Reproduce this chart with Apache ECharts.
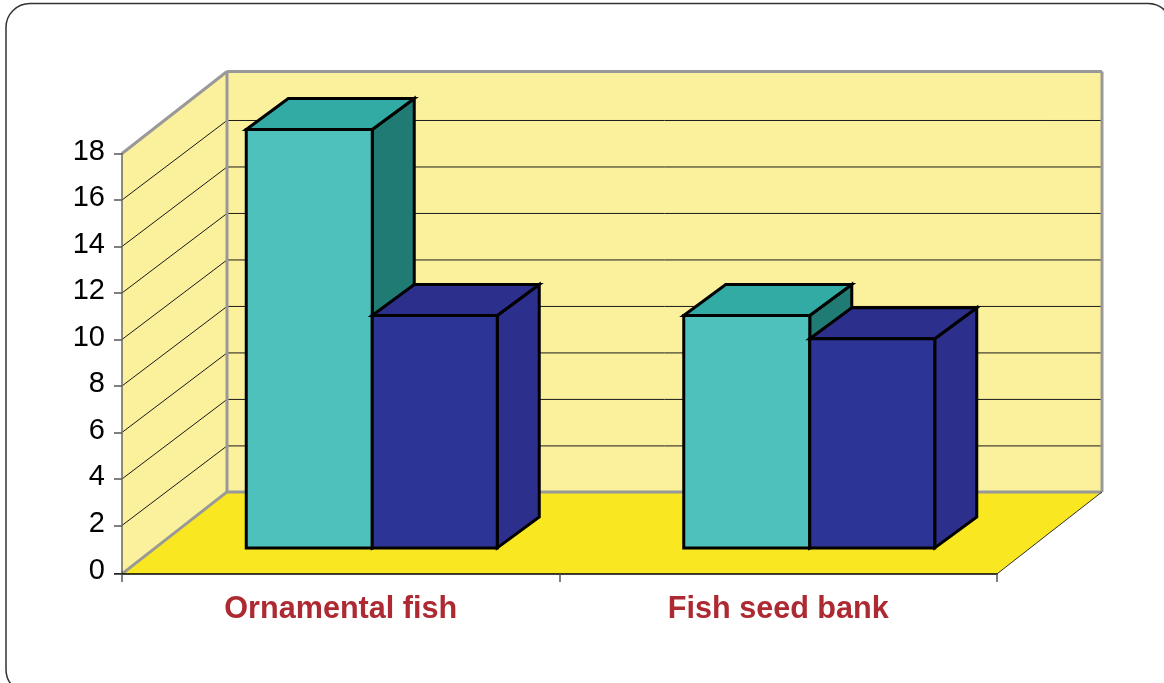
<!DOCTYPE html>
<html><head><meta charset="utf-8">
<style>html,body{margin:0;padding:0;background:#fff}#c{width:1164px;height:683px}</style>
<script src="https://cdn.jsdelivr.net/npm/echarts@6/dist/echarts.min.js"></script>
</head><body><div id="c"></div>
<script>
const categories = ['Ornamental fish', 'Fish seed bank'];
const tealValues = [18, 10];
const navyValues = [10, 9];
const yTicks = [2, 4, 6, 8, 10, 12, 14, 16];
const yMax = 18;

const WALL_DX = 105, WALL_DY = -82, GRID_DY = -79.5, FLOOR_DROP = 2;
const BAR_DY = -24;
const DEPTH_DX = 42, DEPTH_DY = -31;
const chart = echarts.init(document.getElementById('c'), null, {renderer: 'canvas'});

function poly(points, fill, stroke, lw) {
  return {type: 'polygon', shape: {points}, style: {fill, stroke: stroke || 'none', lineWidth: lw || 0, lineJoin: 'miter'}};
}
function line(a, b, stroke, lw) {
  return {type: 'line', shape: {x1: a[0], y1: a[1], x2: b[0], y2: b[1]}, style: {stroke, lineWidth: lw}};
}
function renderWalls(params, api) {
  const cs = params.coordSys;
  const L = cs.x, R = cs.x + cs.width;
  const y0 = api.coord([0, 0])[1] + FLOOR_DROP, yT = api.coord([0, yMax])[1];
  const wall = '#FBF09B', floor = '#F9E721', edge = '#999999', ink = '#1a1a1a';
  const bk = (x, y) => [x + WALL_DX, y + WALL_DY];
  const ch = [
    poly([[L, y0], bk(L, y0), bk(L, yT), [L, yT]], wall),
    poly([bk(L, y0), bk(R, y0), bk(R, yT), bk(L, yT)], wall),
    poly([[L, y0], bk(L, y0), bk(R, y0), [R, y0]], floor)
  ];
  yTicks.forEach(v => {
    const y = api.coord([0, v])[1];
    const b = [L + WALL_DX, y + GRID_DY];
    ch.push(line([L, y], b, ink, 1));
    ch.push(line(b, [R + WALL_DX, y + GRID_DY], ink, 1));
  });
  ch.push(line(bk(L, yT), bk(R, yT), edge, 3));
  ch.push(line(bk(R, yT), bk(R, y0), edge, 3));
  ch.push(line(bk(L, y0), bk(R, y0), edge, 3));
  ch.push(line(bk(L, yT), bk(L, y0), edge, 3));
  ch.push(line([L, yT], bk(L, yT), edge, 3));
  ch.push(line([L, y0], bk(L, y0), edge, 3));
  ch.push(line([R, y0], bk(R, y0), '#333333', 1));
  ch.push(line([L - 8, y0], [L, y0], '#000', 1.5));
  ch.push(line([L, y0 - FLOOR_DROP - 1], [L, y0], '#666', 1.5));
  return {type: 'group', children: ch};
}
function barRenderer(xFrom, xTo, front, top, side) {
  return function (params, api) {
    const c = api.value(0), v = api.value(1);
    const cx = api.coord([c, 0])[0];
    const base = api.coord([c, 0])[1] + BAR_DY;
    const head = api.coord([c, v])[1] + BAR_DY;
    const a = cx + xFrom, b = cx + xTo;
    const lw = 3, k = '#000';
    return {type: 'group', children: [
      poly([[b, head], [b + DEPTH_DX, head + DEPTH_DY], [b + DEPTH_DX, base + DEPTH_DY], [b, base]], side, k, lw),
      poly([[a, head], [a + DEPTH_DX, head + DEPTH_DY], [b + DEPTH_DX, head + DEPTH_DY], [b, head]], top, k, lw),
      poly([[a, head], [b, head], [b, base], [a, base]], front, k, lw)
    ]};
  };
}
const FONT = '"Liberation Sans", Arial, sans-serif';
chart.setOption({
  animation: false,
  backgroundColor: '#fff',
  graphic: [{type: 'rect', z: -10, silent: true,
    shape: {x: 6, y: 3.5, width: 1166, height: 690, r: 24},
    style: {fill: '#fff', stroke: '#333', lineWidth: 1.5}}],
  grid: {left: 122, top: 153.5, width: 875, height: 418.4},
  xAxis: {type: 'category', data: categories, z: 5, offset: FLOOR_DROP,
    axisLine: {show: true, onZero: false, lineStyle: {color: '#000', width: 1.5}},
    axisTick: {show: true, length: 8, alignWithLabel: false, lineStyle: {color: '#555', width: 1.5}},
    axisLabel: {color: '#AE2A32', fontFamily: FONT, fontWeight: 'bold', fontSize: 30.6, margin: 20}},
  yAxis: {type: 'value', min: 0, max: yMax, interval: 2, z: 5,
    axisLine: {show: true, lineStyle: {color: '#666', width: 1.5}},
    axisTick: {show: true, length: 8, customValues: [2, 4, 6, 8, 10, 12, 14, 16, 18], lineStyle: {color: '#555', width: 1.5}},
    splitLine: {show: false},
    axisLabel: {color: '#000', fontFamily: FONT, fontSize: 29, margin: 17, padding: [0, 0, 3, 0],
      formatter: v => v === 0 ? '{z|0}' : String(v),
      rich: {z: {fontFamily: FONT, fontSize: 29, color: '#000', padding: [2, 0, 0, 0]}}}},
  series: [
    {type: 'custom', name: 'walls', z: 1, silent: true, data: [[0]], renderItem: renderWalls, encode: {x: 0}},
    {type: 'custom', name: 'Teal', z: 2, renderItem: barRenderer(-94.5, 31.5, '#4FC1BD', '#33ABA5', '#1F7B74'),
      data: tealValues.map((v, i) => [i, v]), encode: {x: 0, y: 1}},
    {type: 'custom', name: 'Navy', z: 3, renderItem: barRenderer(31.5, 156.5, '#2C3595', '#2D2F8C', '#2D2F8C'),
      data: navyValues.map((v, i) => [i, v]), encode: {x: 0, y: 1}}
  ]
});
</script></body></html>
